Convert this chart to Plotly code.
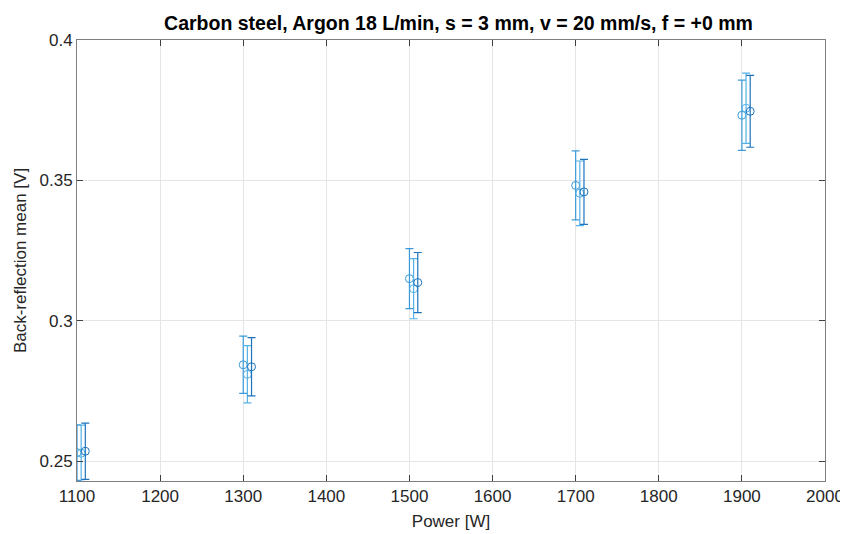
import plotly.graph_objects as go

power = [1100, 1300, 1500, 1700, 1900]
offsets = [0, 5, 10]
mean_1 = [0.2530, 0.2843, 0.3150, 0.3482, 0.3732]
mean_2 = [0.2528, 0.2809, 0.3114, 0.3454, 0.3757]
mean_3 = [0.2535, 0.2836, 0.3136, 0.3459, 0.3746]
err_1 = [0.0099, 0.0102, 0.0107, 0.0123, 0.0125]
err_2 = [0.0100, 0.0102, 0.0107, 0.0115, 0.0125]
err_3 = [0.0100, 0.0104, 0.0107, 0.0116, 0.0128]
series_colors = ['#3a9ad9', '#55b2e8', '#1d74bd']

means = [mean_1, mean_2, mean_3]
errs = [err_1, err_2, err_3]

fig = go.Figure()
for i in range(3):
    fig.add_trace(go.Scatter(
        x=[p + offsets[i] for p in power],
        y=means[i],
        mode='markers',
        marker=dict(symbol='circle-open', size=8, color=series_colors[i],
                    line=dict(width=1, color=series_colors[i])),
        error_y=dict(type='data', array=errs[i], visible=True,
                     color=series_colors[i], thickness=1.2, width=4),
        showlegend=False,
    ))

axis_common = dict(
    showline=True, linecolor='#7f7f7f', linewidth=1, mirror='allticks',
    ticks='inside', ticklen=6, tickcolor='#404040',
    showgrid=True, gridcolor='#e5e5e5', gridwidth=1, zeroline=False,
    tickfont=dict(family='Liberation Sans, Arial', size=17, color='#262626'),
)

fig.update_layout(
    width=848, height=534,
    paper_bgcolor='white', plot_bgcolor='white',
    margin=dict(l=68, r=30, t=32, b=61),
    title=dict(text='<b>Carbon steel, Argon 18 L/min, s = 3 mm, v = 20 mm/s, f = +0 mm</b>',
               xref='paper', x=0.51, xanchor='center', y=0.972, yanchor='middle',
               font=dict(family='Liberation Sans, Arial', size=19.5, color='#000000')),
    xaxis=dict(range=[1100, 2000], tickvals=[1100, 1200, 1300, 1400, 1500, 1600, 1700, 1800, 1900, 2000],
               title=dict(text='Power [W]', standoff=9,
                          font=dict(family='Liberation Sans, Arial', size=17, color='#262626')),
               **axis_common),
    yaxis=dict(range=[0.2429, 0.4], tickvals=[0.25, 0.3, 0.35, 0.4],
               ticktext=['0.25', '0.3', '0.35', '0.4'],
               title=dict(text='Back-reflection mean [V]', standoff=8,
                          font=dict(family='Liberation Sans, Arial', size=17, color='#262626')),
               **axis_common),
)

fig.write_html('out.html')
